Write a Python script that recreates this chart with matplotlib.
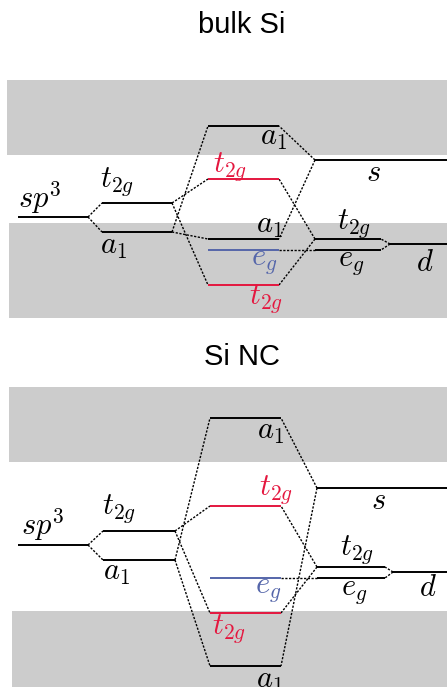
import matplotlib
matplotlib.use("Agg")
import matplotlib.pyplot as plt

plt.rcParams["mathtext.fontset"] = "cm"

W, H = 447, 687
RED = "#e4173f"
BLUE = "#5566aa"
GRAY = "#cccccc"

# level energies, relative to the sp3 level (one entry per panel)
titles = ["bulk Si", "Si NC"]
hyb_t2g = [14, 14]
hyb_a1 = [-15, -15]
mo_a1_anti = [91, 127]
mo_t2g_anti = [38, 39]
mo_eg = [-33, -33]
mo_t2g_bond = [-68, -68]
mo_a1_bond = [-22, -121]
s_level = [57, 57]
d_t2g = [-22, -22]
d_eg = [-33, -33]
d_level = [-27, -27]
cond_band = [(62, 137), (83, 158)]
val_band = [(-101, -6), (-142, -66)]

# label text, colour and where it sits (x, energy, vertical anchor)
labels = [
    [(r"$sp^3$", "k", 40, 1, "bottom"), (r"$t_{2g}$", "k", 117, 19, "bottom"),
     (r"$a_1$", "k", 114, -15, "top"), (r"$a_1$", "k", 274, 94, "top"),
     (r"$t_{2g}$", RED, 230, 34, "bottom"), (r"$a_1$", "k", 270, -23, "bottom"),
     (r"$e_g$", BLUE, 264, -30, "top"), (r"$t_{2g}$", RED, 266, -65, "top"),
     (r"$s$", "k", 373, 59, "top"), (r"$t_{2g}$", "k", 354, -23, "bottom"),
     (r"$e_g$", "k", 351, -31, "top"), (r"$d$", "k", 425, -31, "top")],
    [(r"$sp^3$", "k", 43, 2, "bottom"), (r"$t_{2g}$", "k", 119, 20, "bottom"),
     (r"$a_1$", "k", 117, -13, "top"), (r"$a_1$", "k", 271, 128, "top"),
     (r"$t_{2g}$", RED, 276, 39, "bottom"), (r"$e_g$", BLUE, 268, -30, "top"),
     (r"$t_{2g}$", RED, 229, -67, "top"), (r"$a_1$", "k", 270, -121, "top"),
     (r"$s$", "k", 378, 59, "top"), (r"$t_{2g}$", "k", 357, -21, "bottom"),
     (r"$e_g$", "k", 354, -32, "top"), (r"$d$", "k", 428, -28, "top")],
]

# layout: panel extent in figure pixels, sp3 row, column spans
panel_px = [(60, 330, 217), (370, 687, 545)]
title_y = [33, 365]
cols = [
    dict(sp3=(18, 88), hyb=(102, 172), mo=(208, 279), rt=(315, 381), d=(390, 447), band_x=(7, 9)),
    dict(sp3=(18, 88), hyb=(103, 175), mo=(210, 281), rt=(317, 385), d=(393, 447), band_x=(9, 12)),
]

fig = plt.figure(figsize=(W / 100, H / 100), dpi=100)

for i in range(2):
    top, bot, ref = panel_px[i]
    ax = fig.add_axes([0, 1 - bot / H, 1, (bot - top) / H])
    ax.set_xlim(0, W)
    ax.set_ylim(ref - bot, ref - top)
    ax.axis("off")
    c = cols[i]

    # conduction / valence band regions
    lo, hi = cond_band[i]
    ax.fill_between([c["band_x"][0], W], lo, hi, color=GRAY, lw=0, zorder=0)
    lo, hi = val_band[i]
    ax.fill_between([c["band_x"][1], W], lo, hi, color=GRAY, lw=0, zorder=0)

    def level(span, e, color="k"):
        ax.plot(span, [e, e], color=color, lw=1.4, solid_capstyle="butt", zorder=3)

    def link(x0, e0, x1, e1):
        ax.plot([x0, x1], [e0, e1], color="k", lw=1.0,
                linestyle=(0, (1.6, 1.1)), zorder=2)

    level(c["sp3"], 0)
    level(c["hyb"], hyb_t2g[i])
    level(c["hyb"], hyb_a1[i])
    level(c["mo"], mo_a1_anti[i])
    level(c["mo"], mo_t2g_anti[i], RED)
    level(c["mo"], mo_eg[i], BLUE)
    level(c["mo"], mo_t2g_bond[i], RED)
    level(c["mo"], mo_a1_bond[i])
    level((c["rt"][0], W), s_level[i])
    level(c["rt"], d_t2g[i])
    level(c["rt"], d_eg[i])
    level(c["d"], d_level[i])

    # sp3 splitting
    link(c["sp3"][1], 0, c["hyb"][0], hyb_t2g[i])
    link(c["sp3"][1], 0, c["hyb"][0], hyb_a1[i])
    # hybrids to molecular levels
    link(c["hyb"][1], hyb_t2g[i], c["mo"][0], mo_t2g_anti[i])
    link(c["hyb"][1], hyb_t2g[i], c["mo"][0], mo_t2g_bond[i])
    link(c["hyb"][1], hyb_a1[i], c["mo"][0], mo_a1_anti[i])
    link(c["hyb"][1], hyb_a1[i], c["mo"][0], mo_a1_bond[i])
    # s and d orbitals to molecular levels
    link(c["rt"][0], s_level[i], c["mo"][1], mo_a1_anti[i])
    link(c["rt"][0], s_level[i], c["mo"][1], mo_a1_bond[i])
    link(c["rt"][0], d_t2g[i], c["mo"][1], mo_t2g_anti[i])
    link(c["rt"][0], d_t2g[i], c["mo"][1], mo_t2g_bond[i])
    link(c["rt"][0], d_eg[i], c["mo"][1], mo_eg[i])
    # d splitting
    link(c["d"][0], d_level[i], c["rt"][1], d_t2g[i])
    link(c["d"][0], d_level[i], c["rt"][1], d_eg[i])

    for txt, color, x, e, va in labels[i]:
        ax.text(x, e, txt, color=color, fontsize=22, ha="center", va=va, zorder=4)

    fig.text(0.541, 1 - title_y[i] / H, titles[i], ha="center", va="baseline",
             fontsize=21, family=["Liberation Sans", "DejaVu Sans"])

fig.savefig("out.png", dpi=100)
